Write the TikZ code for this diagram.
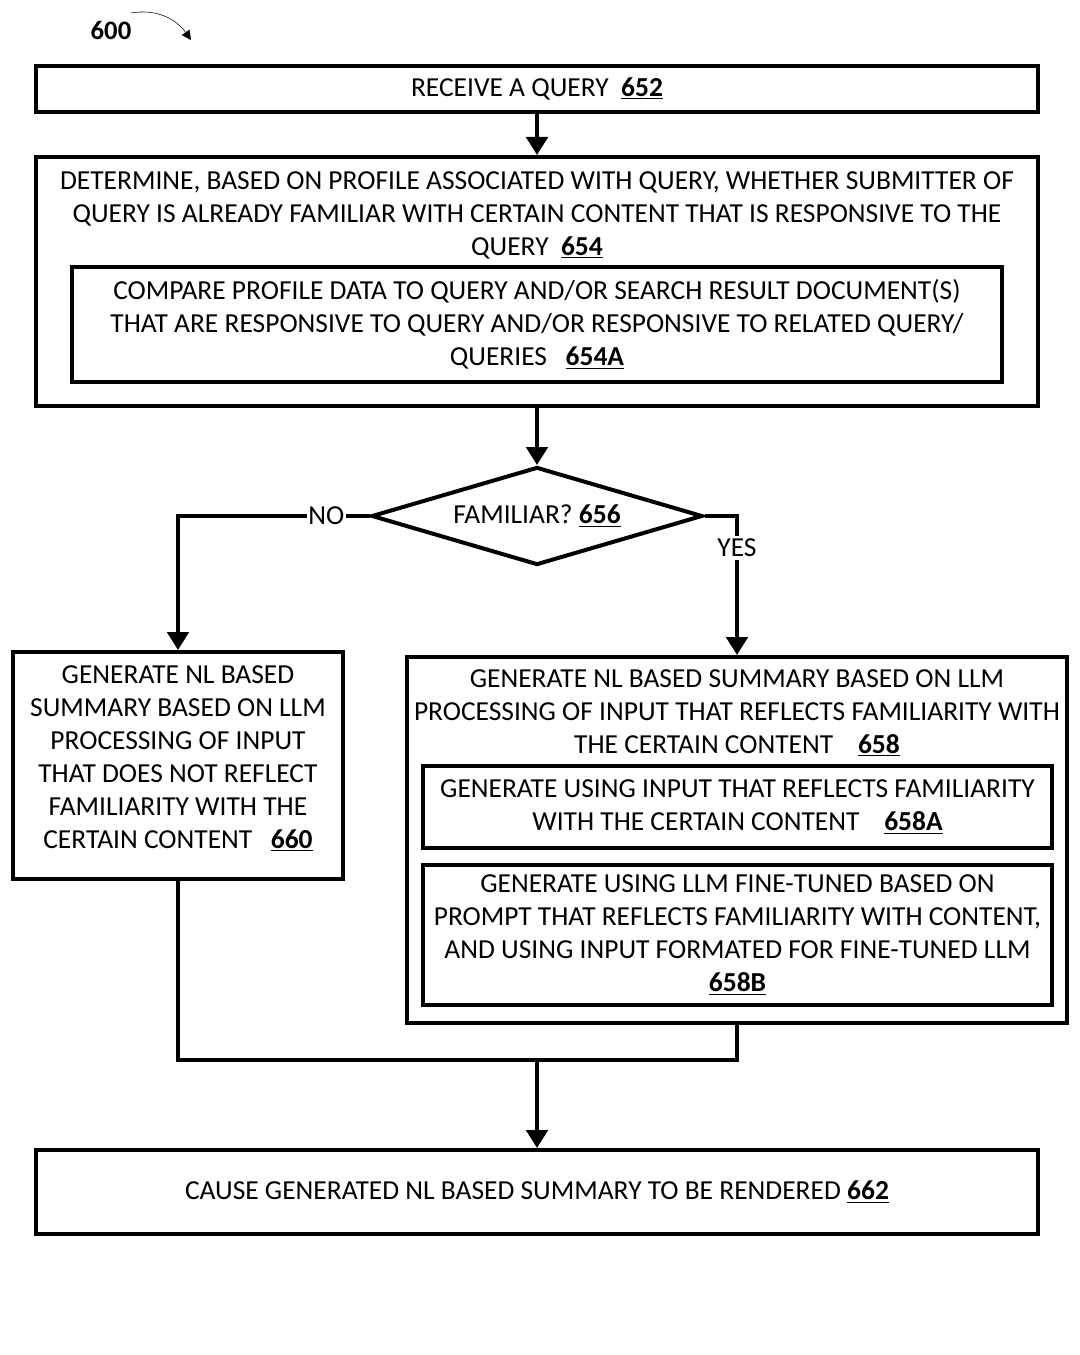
\documentclass[tikz,border=0pt]{standalone}
\usepackage{fontspec}
\setmainfont{Carlito}
\usepackage{tikz}
\usetikzlibrary{arrows.meta, shapes.geometric}

\newcommand{\refnum}[1]{\textbf{\underline{#1}}}

\begin{document}
\begin{tikzpicture}[
            x = 0.75pt, y = -0.75pt, % pixel grid of the sheet
            > = {Triangle[length=13.5pt, width=16pt]}, % arrow head style
            line join = miter,
            font = \fontsize{20.6}{24.75}\selectfont
        ]

        \tikzstyle{box}=[
            draw = black,
            line width = 3pt,
            fill = white,
            inner sep = 0pt
        ]
        \tikzstyle{subbox}=[box, line width = 2.6pt]
        \tikzstyle{txt}=[align = center, inner sep = 0pt]
        \tikzstyle{flow}=[line width = 3pt]

        \useasboundingbox (0,0) rectangle (1080,1355);

        % figure number
        \node[txt, font = \fontsize{20}{24}\selectfont\bfseries] (fig) at (111,30) {600};
        \coordinate (figtip) at (191,40);
        \draw[thin, -{Triangle[length=7pt, width=7pt]}] (131,13) to[out=10, in=125] (figtip);

        % boxes
        \node[box, minimum width = 751.5pt, minimum height = 34.5pt] (b652) at (537,89) {RECEIVE A QUERY\ \ \refnum{652}};
        \node[box, minimum width = 751.5pt, minimum height = 186.75pt] (b654) at (537,281.5) {};
        \node[txt] (t654) at (537,215) {DETERMINE, BASED ON PROFILE ASSOCIATED WITH QUERY, WHETHER SUBMITTER OF\\QUERY IS ALREADY FAMILIAR WITH CERTAIN CONTENT THAT IS RESPONSIVE TO THE\\QUERY\ \ \refnum{654}};
        \node[subbox, minimum width = 697.5pt, minimum height = 86.25pt, align = center] (b654a) at (537,324.5) {COMPARE PROFILE DATA TO QUERY AND/OR SEARCH RESULT DOCUMENT(S)\\THAT ARE RESPONSIVE TO QUERY AND/OR RESPONSIVE TO RELATED QUERY/\\QUERIES\ \ \ \refnum{654A}};

        \node[box, diamond, aspect = 3.4, minimum width = 248.25pt, minimum height = 73.5pt] (d656) at (537,516) {FAMILIAR? \refnum{656}};

        \node[box, minimum width = 247.5pt, minimum height = 170.25pt] (b660) at (178,765.5) {};
        \node[txt] (t660) at (178,758.5) {GENERATE NL BASED\\SUMMARY BASED ON LLM\\PROCESSING OF INPUT\\THAT DOES NOT REFLECT\\FAMILIARITY WITH THE\\CERTAIN CONTENT\ \ \ \refnum{660}};

        \node[box, minimum width = 495pt, minimum height = 274.5pt] (b658) at (737,840) {};
        \node[txt] (t658) at (737,713) {GENERATE NL BASED SUMMARY BASED ON LLM\\PROCESSING OF INPUT THAT REFLECTS FAMILIARITY WITH\\THE CERTAIN CONTENT\ \ \ \ \refnum{658}};
        \node[subbox, minimum width = 471.75pt, minimum height = 61.5pt, align = center] (b658a) at (737.5,807) {GENERATE USING INPUT THAT REFLECTS FAMILIARITY\\WITH THE CERTAIN CONTENT\ \ \ \ \refnum{658A}};
        \node[subbox, minimum width = 471.75pt, minimum height = 105pt, align = center] (b658b) at (737.5,935) {GENERATE USING LLM FINE-TUNED BASED ON\\PROMPT THAT REFLECTS FAMILIARITY WITH CONTENT,\\AND USING INPUT FORMATED FOR FINE-TUNED LLM\\\refnum{658B}};

        \node[box, minimum width = 751.5pt, minimum height = 63pt] (b662) at (537,1192) {CAUSE GENERATED NL BASED SUMMARY TO BE RENDERED \refnum{662}};

        % connectors
        \coordinate (merge) at (537,1060);
        \draw[flow, ->] (b652) -- (b654);
        \draw[flow, ->] (b654) -- (d656);
        \draw[flow, ->] (d656.west) -| (b660.north)
            node[pos = 0.113, fill = white, inner sep = 1pt] (no) {NO};
        \draw[flow, ->] (d656.east) -| (b658.north)
            node[pos = 0.615, fill = white, inner sep = 2pt] (yes) {YES};
        \draw[flow] (b660.south) |- (merge) -| (b658.south);
        \draw[flow, ->] (merge) -- (b662);
    \end{tikzpicture}
\end{document}
